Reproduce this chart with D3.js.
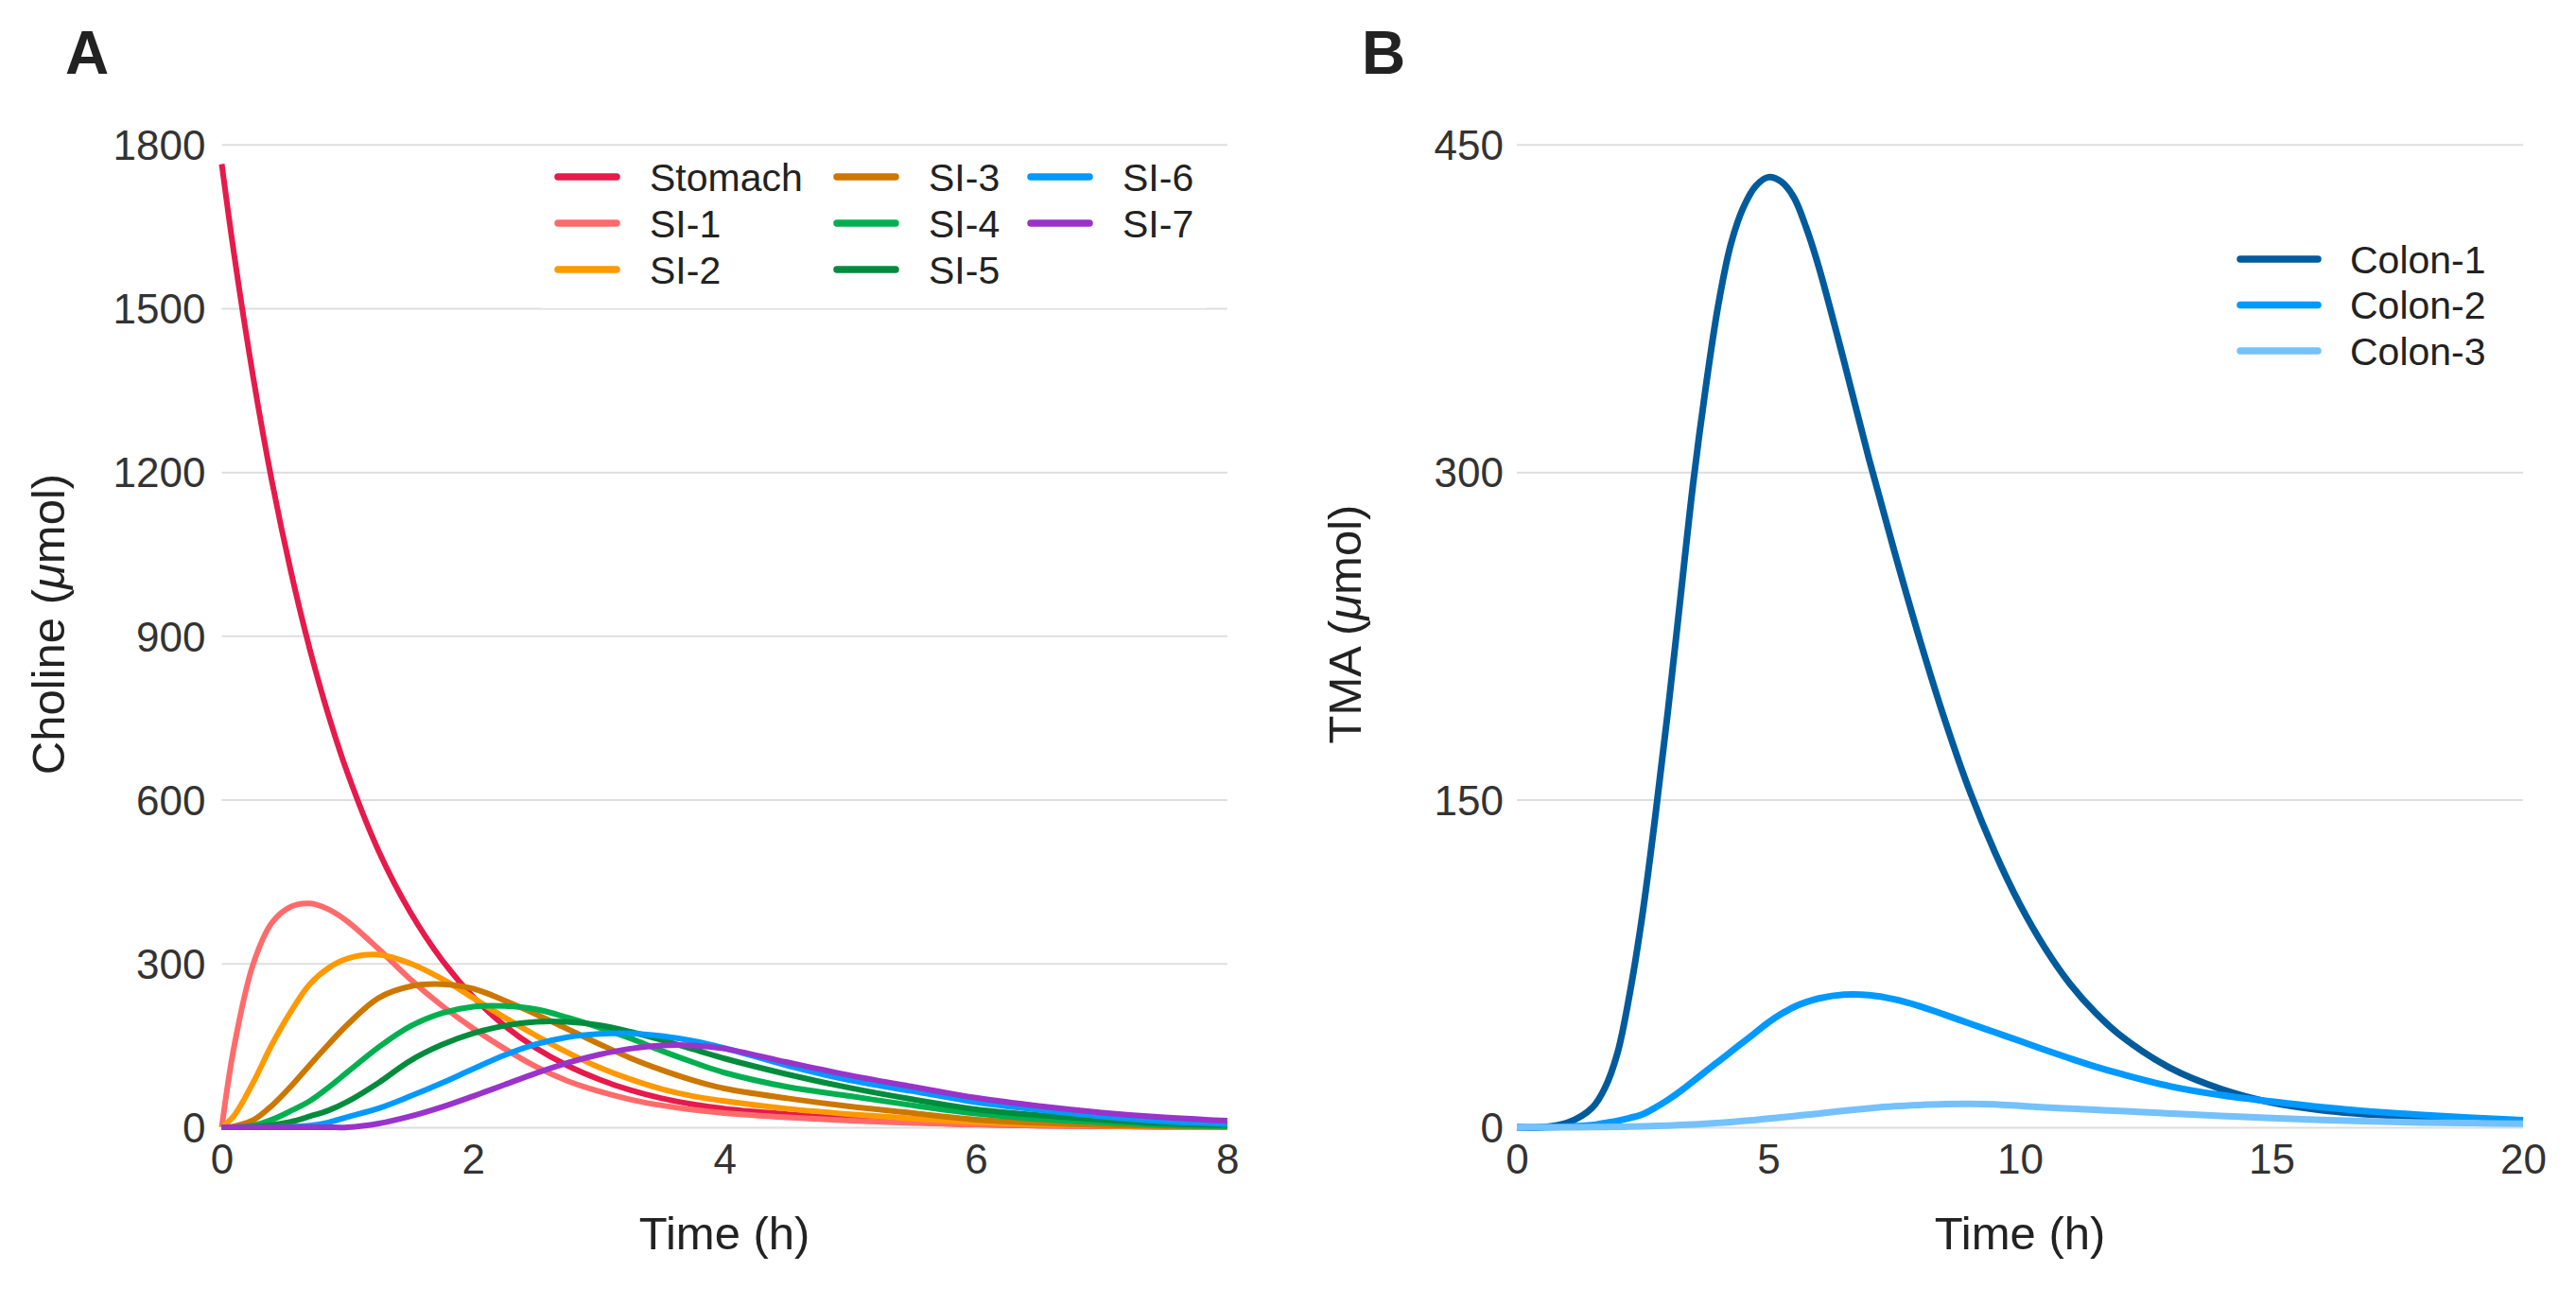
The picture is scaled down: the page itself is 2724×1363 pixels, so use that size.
<!DOCTYPE html>
<html>
<head>
<meta charset="utf-8">
<script src="https://cdnjs.cloudflare.com/ajax/libs/d3/7.8.5/d3.min.js"></script>
<style>
    body { margin: 0; background: #ffffff; }
    #chart { width: 2724px; height: 1363px; }
</style>
</head>
<body>
<div id="chart"></div>
<script>

// ---- data ----

// panel A: choline in stomach and small intestine segments
const timeA = [0, 0.1, 0.25, 0.4, 0.55, 0.7, 0.85, 1, 1.25, 1.5, 1.75, 2, 2.25, 2.5, 2.75, 3, 3.25, 3.5, 3.75, 4, 4.5, 5, 5.5, 6, 6.5, 7, 7.5, 8];
const stomach = [1764, 1596, 1374, 1182, 1018, 876, 754, 649, 505, 394, 307, 239, 186, 145, 113, 88, 68, 53, 42, 34, 24, 15, 9, 5, 3, 2, 1, 1];
const si1 = [0, 150, 299, 375, 404, 410, 399, 377, 326, 271, 223, 181, 144, 111, 85, 66, 51, 40, 32, 26, 18, 12, 8, 5, 3, 2, 1, 1];
const si2 = [0, 22, 82, 152, 212, 262, 292, 309, 316, 300, 272, 237, 201, 168, 137, 110, 88, 70, 57, 48, 34, 24, 16, 9, 5, 3, 2, 1];
const si3 = [0, 2, 13, 40, 75, 114, 152, 188, 237, 258, 262, 254, 232, 207, 180, 153, 127, 105, 86, 71, 53, 38, 26, 14, 8, 4, 2, 1];
const si4 = [0, 0, 3, 14, 30, 48, 73, 101, 147, 185, 209, 221, 222, 216, 201, 183, 163, 140, 119, 100, 74, 57, 40, 25, 15, 9, 4, 2];
const si5 = [0, 0, 1, 4, 10, 20, 31, 47, 82, 122, 151, 172, 186, 193, 193, 187, 175, 160, 143, 126, 97, 72, 51, 33, 22, 14, 7, 4];
const si6 = [0, 0, 0, 0, 1, 3, 9, 19, 35, 57, 81, 107, 132, 152, 165, 171, 172, 167, 158, 145, 113, 86, 66, 46, 32, 20, 11, 6];
const si7 = [0, 0, 0, 0, 0, 0, 0, 0, 7, 20, 37, 57, 78, 99, 118, 133, 144, 150, 150, 144, 119, 95, 74, 54, 39, 27, 18, 12];
const namesA = ["Stomach", "SI-1", "SI-2", "SI-3", "SI-4", "SI-5", "SI-6", "SI-7"];
const colorsA = ["#e61a4b", "#ff6b6b", "#ff9900", "#cc7700", "#00b050", "#008c3c", "#0099ff", "#9933cc"];
const yTicksA = [0, 300, 600, 900, 1200, 1500, 1800];
const xTicksA = [0, 2, 4, 6, 8];

// panel B: TMA in colon segments
const timeB = [0, 0.5, 1, 1.5, 1.75, 2, 2.25, 2.5, 2.75, 3, 3.25, 3.5, 3.75, 4, 4.25, 4.5, 4.75, 5, 5.25, 5.5, 5.75, 6, 6.5, 7, 7.5, 8, 8.5, 9, 9.5, 10, 10.5, 11, 11.5, 12, 13, 14, 15, 16, 17, 18, 19, 20];
const colon1 = [0, 0, 2, 9, 18, 34, 62, 98, 142, 190, 242, 294, 338, 376, 404, 421, 431, 435, 433, 426, 412, 394, 351, 306, 264, 224, 187, 154, 126, 102, 82, 65.5, 52.5, 42, 27, 17.5, 11.3, 7.8, 5.8, 4.5, 3.6, 3];
const colon2 = [0, 0, 0.3, 1, 2, 3, 4.3, 6, 9, 12.5, 16.5, 21, 25.5, 30, 34.5, 39, 43.5, 48, 51.8, 55, 57.3, 59, 60.7, 60.5, 58.6, 55.5, 51.6, 47.5, 43.5, 39.5, 35.4, 31.5, 27.8, 24.5, 18.7, 14.7, 11.8, 9.2, 7.2, 5.6, 4.3, 3.3];
const colon3 = [0, 0, 0, 0.1, 0.15, 0.2, 0.3, 0.4, 0.6, 0.8, 1.05, 1.3, 1.6, 2, 2.4, 2.9, 3.4, 4, 4.5, 5.1, 5.7, 6.3, 7.6, 8.7, 9.6, 10.2, 10.6, 10.7, 10.5, 9.8, 9.1, 8.5, 8, 7.5, 6.3, 5.2, 4.2, 3.4, 2.7, 2.2, 1.9, 1.6];
const namesB = ["Colon-1", "Colon-2", "Colon-3"];
const colorsB = ["#005b9c", "#0099ff", "#75c1fb"];
const yTicksB = [0, 150, 300, 450];
const xTicksB = [0, 5, 10, 15, 20];


const FONT = '"Liberation Sans", Arial, Helvetica, sans-serif';

class TimePanel {

    constructor(svg, opts) {
        this.svg = svg;
        Object.assign(this, opts);
        this.initVis();
    }

    initVis() {
        let vis = this;

        vis.x = d3.scaleLinear().domain(vis.xDomain).range([vis.left, vis.right]);
        vis.y = d3.scaleLinear().domain(vis.yDomain).range([vis.bottom, vis.top]);

        // horizontal grid + y labels
        vis.svg.append("g")
            .attr("transform", `translate(${vis.left},0)`)
            .call(d3.axisLeft(vis.y)
                .tickValues(vis.yTicks)
                .tickFormat(d3.format("d"))
                .tickSize(-(vis.right - vis.left))
                .tickPadding(vis.yPad))
            .attr("font-family", FONT)
            .attr("font-size", 44)
            .call(g => g.select(".domain").remove())
            .call(g => g.selectAll(".tick line").attr("stroke", "#dedede").attr("stroke-width", 2))
            .call(g => g.selectAll(".tick text").attr("fill", "#333333").attr("dy", "0.36em"));

        // x labels (no axis line, no ticks)
        vis.svg.append("g")
            .attr("transform", `translate(0,${vis.bottom})`)
            .call(d3.axisBottom(vis.x)
                .tickValues(vis.xTicks)
                .tickFormat(d3.format("d"))
                .tickSize(0)
                .tickPadding(18))
            .attr("font-family", FONT)
            .attr("font-size", 44)
            .call(g => g.select(".domain").remove())
            .call(g => g.selectAll(".tick text").attr("fill", "#333333"));

        // axis titles
        vis.svg.append("text")
            .attr("x", (vis.left + vis.right) / 2)
            .attr("y", 1321)
            .attr("text-anchor", "middle")
            .attr("font-family", FONT)
            .attr("font-size", 49)
            .attr("fill", "#222222")
            .text("Time (h)");

        let yt = vis.svg.append("text")
            .attr("transform", `translate(${vis.yTitleX},660) rotate(-90)`)
            .attr("text-anchor", "middle")
            .attr("font-family", FONT)
            .attr("font-size", 49)
            .attr("fill", "#222222");
        yt.append("tspan").text(vis.yTitle + " (");
        yt.append("tspan").attr("font-style", "italic").text("\u03bc");
        yt.append("tspan").text("mol)");

        // panel tag
        vis.svg.append("text")
            .attr("x", vis.tagX)
            .attr("y", 78)
            .attr("font-family", FONT)
            .attr("font-weight", "bold")
            .attr("font-size", 64)
            .attr("fill", "#222222")
            .text(vis.tag);

        vis.wrangleData();
    }

    wrangleData() {
        let vis = this;

        vis.lineData = vis.names.map((name, i) => ({
            name: name,
            color: vis.colors[i],
            points: vis.times.map((t, j) => ({t: t, v: vis.values[i][j]}))
        }));

        vis.updateVis();
    }

    updateVis() {
        let vis = this;

        let line = d3.line()
            .x(d => vis.x(d.t))
            .y(d => vis.y(d.v))
            .curve(d3.curveCatmullRom.alpha(0.5));

        vis.svg.append("g")
            .selectAll("path")
            .data(vis.lineData)
            .enter().append("path")
            .attr("d", d => line(d.points))
            .attr("fill", "none")
            .attr("stroke", d => d.color)
            .attr("stroke-width", vis.lineWidth)
            .attr("stroke-linejoin", "round");

        // legend
        let leg = vis.svg.append("g").attr("class", "legend");

        if (vis.legendBox) {
            leg.append("rect")
                .attr("x", vis.legendBox[0])
                .attr("y", vis.legendBox[1])
                .attr("width", vis.legendBox[2])
                .attr("height", vis.legendBox[3])
                .attr("fill", "#ffffff");
        }

        let items = leg.selectAll("g.item")
            .data(vis.lineData)
            .enter().append("g")
            .attr("class", "item")
            .attr("transform", (d, i) => {
                let col = Math.floor(i / vis.legendRows);
                let row = i % vis.legendRows;
                return `translate(${vis.legendColX[col]},${vis.legendTop + row * vis.legendStep})`;
            });

        items.append("line")
            .attr("x1", 4)
            .attr("x2", vis.keyWidth - 4)
            .attr("stroke", d => d.color)
            .attr("stroke-width", 7.5)
            .attr("stroke-linecap", "round");

        items.append("text")
            .attr("x", vis.keyWidth + vis.keyGap)
            .attr("dy", "0.36em")
            .attr("font-family", FONT)
            .attr("font-size", 41)
            .attr("fill", "#222222")
            .text(d => d.name);
    }
}


let svg = d3.select("#chart").append("svg")
    .attr("width", 2724)
    .attr("height", 1363)
    .style("background", "#ffffff");

new TimePanel(svg, {
    tag: "A", tagX: 69,
    left: 234.5, right: 1297.8, top: 152.7, bottom: 1192,
    xDomain: [0, 8], yDomain: [0, 1800],
    xTicks: xTicksA, yTicks: yTicksA, yPad: 17,
    yTitle: "Choline", yTitleX: 68,
    times: timeA,
    values: [stomach, si1, si2, si3, si4, si5, si6, si7],
    names: namesA, colors: colorsA,
    lineWidth: 6,
    legendBox: [572, 160, 704, 165.9],
    legendRows: 3, legendColX: [586, 881, 1086], legendTop: 187, legendStep: 49,
    keyWidth: 70, keyGap: 31
});

new TimePanel(svg, {
    tag: "B", tagX: 1440,
    left: 1604, right: 2668, top: 152.7, bottom: 1192,
    xDomain: [0, 20], yDomain: [0, 450],
    xTicks: xTicksB, yTicks: yTicksB, yPad: 14,
    yTitle: "TMA", yTitleX: 1439,
    times: timeB,
    values: [colon1, colon2, colon3],
    names: namesB, colors: colorsB,
    lineWidth: 7,
    legendBox: null,
    legendRows: 3, legendColX: [2365], legendTop: 274, legendStep: 48.5,
    keyWidth: 90, keyGap: 30
});

</script>
</body>
</html>
